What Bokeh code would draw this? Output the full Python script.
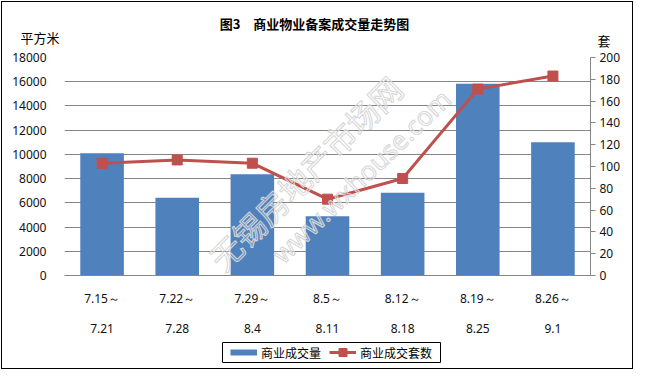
from bokeh.plotting import figure
from bokeh.layouts import column
from bokeh.models import (FactorRange, Range1d, LinearAxis, CategoricalAxis,
                          SingleIntervalTicker, Legend, LegendItem, Label,
                          ColumnDataSource)
from bokeh.core.properties import value
from bokeh.embed import file_html
from bokeh.resources import INLINE
import math

# ---------------- data ----------------
week_start = ["7.15～", "7.22～", "7.29～", "8.5～", "8.12～", "8.19～", "8.26～"]
week_end = ["7.21", "7.28", "8.4", "8.11", "8.18", "8.25", "9.1"]
area_sqm = [10100, 6420, 8350, 4900, 6830, 15830, 11000]
units_sold = [103, 106, 103, 70, 89, 171, 183]
title_text = "图3　商业物业备案成交量走势图"
left_unit = "平方米"
right_unit = "套"
series_names = ["商业成交量", "商业成交套数"]
watermark_cn = "无锡房地产市场网"
watermark_url = "www.wxhouse.com"

CJK = "Noto Sans CJK SC"
NUM = "Noto Sans"
BAR = "#4F81BD"
LINE = "#C0504D"
GRID = "#868686"
W = 634


def clear_bg(fig):
    fig.background_fill_alpha = 0
    fig.border_fill_alpha = 0


# ---------------- header (title + unit labels) ----------------
head = figure(width=W, height=49, x_range=Range1d(0, W), y_range=Range1d(49, 0),
              output_backend="svg", toolbar_location=None,
              x_axis_location=None, y_axis_location=None,
              min_border=0, outline_line_color=None, frame_align=False)
head.grid.visible = False
clear_bg(head)
head.text(x=[314], y=[22.5], text=[title_text], text_font=value(CJK),
          text_font_size="13px", text_font_style="bold", text_color="black",
          text_align="center", text_baseline="middle")
head.text(x=[39.5, 603.5], y=[37, 40], text=[left_unit, right_unit],
          text_font=value(CJK), text_font_size="13px", text_color="black",
          text_align="center", text_baseline="middle")

# ---------------- main chart ----------------
src = ColumnDataSource(dict(week=week_start, area=area_sqm, units=units_sold))

p = figure(width=W, height=291,
           x_range=FactorRange(factors=week_start, range_padding=0),
           y_range=Range1d(0, 18000),
           output_backend="svg", toolbar_location=None,
           min_border_left=64, min_border_right=44,
           min_border_top=8, min_border_bottom=65, frame_align=False)
p.extra_y_ranges = {"count": Range1d(0, 200)}
p.extra_x_ranges = {"end": FactorRange(factors=week_end, range_padding=0)}
p.outline_line_color = None
clear_bg(p)

p.xgrid.grid_line_color = None
p.ygrid.grid_line_color = GRID
p.ygrid.grid_line_width = 1

ly = p.yaxis[0]
ly.ticker = SingleIntervalTicker(interval=2000)
ly.axis_line_color = None
ly.major_tick_line_color = None
ly.minor_tick_line_color = None
ly.major_label_standoff = 12
ly.major_label_text_font = NUM
ly.major_label_text_font_size = "12px"
ly.major_label_text_color = "#111111"

ry = LinearAxis(y_range_name="count", ticker=SingleIntervalTicker(interval=20))
ry.axis_line_color = GRID
ry.major_tick_line_color = GRID
ry.major_tick_out = 5
ry.major_tick_in = 0
ry.minor_tick_line_color = None
ry.major_label_standoff = 4
ry.major_label_text_font = NUM
ry.major_label_text_font_size = "12px"
ry.major_label_text_color = "#111111"
p.add_layout(ry, "right")

bx = p.xaxis[0]
bx.axis_line_color = GRID
bx.major_tick_line_color = None
bx.minor_tick_line_color = None
bx.major_label_standoff = 8
bx.major_label_text_font = NUM
bx.major_label_text_font_size = "12px"
bx.major_label_text_color = "#111111"

bx2 = CategoricalAxis(x_range_name="end")
bx2.axis_line_color = None
bx2.major_tick_line_color = None
bx2.minor_tick_line_color = None
bx2.major_label_standoff = 8
bx2.major_label_text_font = NUM
bx2.major_label_text_font_size = "12px"
bx2.major_label_text_color = "#111111"
p.add_layout(bx2, "below")

p.vbar(x="week", top="area", width=0.58, source=src,
       fill_color=BAR, line_color=None)
p.line(x="week", y="units", source=src, y_range_name="count",
       line_color=LINE, line_width=3)
p.scatter(x="week", y="units", source=src, y_range_name="count",
          marker="square", size=10, fill_color=LINE, line_color=LINE)

# watermark (kept inside the plot area)
p.add_layout(Label(x=3.20, y=8500, text=watermark_cn, text_font=CJK,
                   text_font_size="32px", text_align="center",
                   text_baseline="middle", angle=math.radians(45),
                   text_color="rgba(255,255,255,0.2)",
                   text_outline_color="#d6d6d6"))
p.add_layout(Label(x=3.95, y=8220, text=watermark_url, text_font=NUM,
                   text_font_size="26px", text_align="center",
                   text_baseline="middle", angle=math.radians(44),
                   text_color="rgba(255,255,255,0.2)",
                   text_outline_color="#d6d6d6"))

# ---------------- legend strip ----------------
lg = figure(width=W, height=30, x_range=Range1d(0, 1), y_range=Range1d(0, 1),
            output_backend="svg", toolbar_location=None,
            x_axis_location=None, y_axis_location=None,
            min_border_left=222, min_border_right=194,
            min_border_top=2, min_border_bottom=8, frame_align=False)
lg.grid.visible = False
clear_bg(lg)
lg.outline_line_color = "black"
lg.outline_line_width = 1
# legend swatches (points lie outside the strip's visible range)
r_bar = lg.line(x=[-5, -4], y=[-5, -5], line_color=BAR, line_width=6)
r_ln = lg.line(x=[-5, -4], y=[-5, -5], line_color=LINE, line_width=3)
r_mk = lg.scatter(x=[-5], y=[-5], marker="square", fill_color=LINE, line_color=LINE)
legend = Legend(items=[LegendItem(label=series_names[0], renderers=[r_bar]),
                       LegendItem(label=series_names[1], renderers=[r_ln, r_mk])],
                orientation="horizontal", location=(8, 0),
                border_line_color=None, background_fill_alpha=0,
                label_text_font=CJK, label_text_font_size="12px",
                label_text_color="black",
                glyph_width=27, glyph_height=20, label_height=20,
                label_standoff=4, spacing=8, padding=0, margin=0)
lg.add_layout(legend)

page = column(head, p, lg, spacing=0, width=W, height=370)
page.styles = {"outline": "1px solid black", "outline-offset": "-2px"}

open("out.html", "w").write(file_html(page, INLINE))
